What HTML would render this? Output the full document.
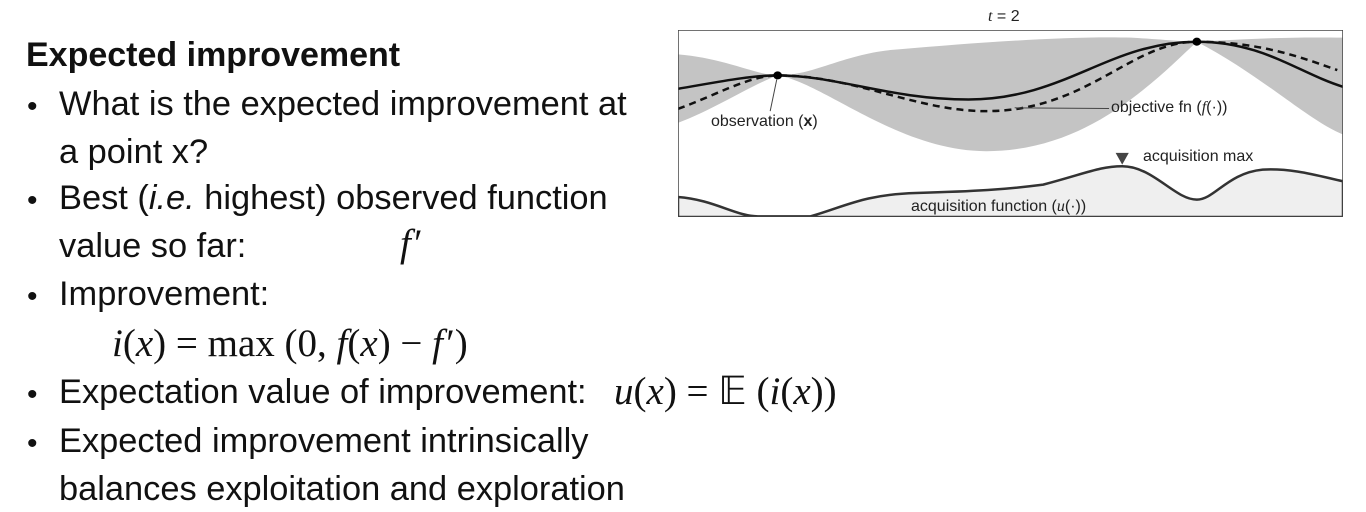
<!DOCTYPE html>
<html><head><meta charset="utf-8"><style>
body{margin:0;width:1366px;height:512px;background:#fff;position:relative;overflow:hidden;font-family:"Liberation Sans",sans-serif;color:#111}
.t{position:absolute;font-size:34.4px;white-space:nowrap;line-height:1}
.b{position:absolute;font-size:30px;left:27px}
.m{position:absolute;font-family:"Liberation Serif",serif;font-size:39px;white-space:nowrap;line-height:1}
.m i{font-style:italic}
.lab{position:absolute;font-size:16px;color:#222;white-space:nowrap;line-height:1}
</style></head><body>
<div class="t" style="left:26px;top:38px;font-weight:bold;font-size:34px">Expected improvement</div>
<div class="b" style="top:90px">•</div><div class="t" style="left:59px;top:87px">What is the expected improvement at</div>
<div class="t" style="left:59px;top:135px">a point x?</div>
<div class="b" style="top:184px">•</div><div class="t" style="left:59px;top:181px">Best (<i>i.e.</i> highest) observed function</div>
<div class="t" style="left:59px;top:229px">value so far:</div>
<div class="m" style="left:400px;top:224px"><i>f</i>&#8202;′</div>
<div class="b" style="top:280px">•</div><div class="t" style="left:59px;top:277px">Improvement:</div>
<div class="m" style="left:112px;top:324px"><i>i</i>(<i>x</i>) = max (0, <i>f</i>(<i>x</i>) − <i>f</i>&#8202;′)</div>
<div class="b" style="top:378px">•</div><div class="t" style="left:59px;top:375px">Expectation value of improvement:</div>
<div class="m" style="left:614px;top:372px"><i>u</i>(<i>x</i>) = 𝔼 (<i>i</i>(<i>x</i>))</div>
<div class="b" style="top:427px">•</div><div class="t" style="left:59px;top:424px">Expected improvement intrinsically</div>
<div class="t" style="left:59px;top:472px">balances exploitation and exploration</div>

<div class="lab" style="left:988px;top:9px;font-size:16px"><i style="font-family:'Liberation Serif',serif">t</i> = 2</div>
<svg style="position:absolute;left:678px;top:30px" width="665" height="187" viewBox="18 92 1515 560" preserveAspectRatio="none">
<path d="M18,165 C120,175 200,228 245,228 C330,228 400,160 520,150 C700,130 900,110 1050,115 C1120,120 1170,127 1200,127 C1300,120 1400,112 1533,115 L1533,405 C1450,360 1350,230 1200,127 C1100,250 950,455 720,455 C520,455 350,250 245,228 C180,260 100,330 18,370 Z" fill="#c4c4c4"/>
<path d="M18,592 C100,600 150,650 200,650 L320,650 C400,620 440,585 560,580 C700,575 760,570 850,555 C950,520 980,500 1030,500 C1100,500 1150,600 1200,600 C1240,600 1270,520 1350,510 C1420,505 1480,530 1533,545 L1533,652 L18,652 Z" fill="#efefef" stroke="#333" stroke-width="2.5" vector-effect="non-scaling-stroke"/>
<path d="M18,268 C100,250 180,228 245,228 C380,228 500,300 680,300 C900,300 1000,127 1200,127 C1350,127 1430,220 1533,262" fill="none" stroke="#111" stroke-width="2.5" vector-effect="non-scaling-stroke"/>
<path d="M18,328 C100,290 180,228 245,228 C420,228 560,335 720,335 C950,335 1050,127 1200,127 C1350,127 1450,180 1520,212" fill="none" stroke="#111" stroke-width="2.5" stroke-dasharray="7,5" vector-effect="non-scaling-stroke"/>
<path d="M1000,327 L785,325 M228,335 L243,240" stroke="#444" stroke-width="1" vector-effect="non-scaling-stroke"/>
<ellipse cx="245" cy="228" rx="10" ry="12" fill="#000"/>
<ellipse cx="1200" cy="127" rx="10" ry="12" fill="#000"/>
<polygon points="1015,460 1045,460 1030,495" fill="#444"/>
<rect x="18" y="92" width="1515" height="560" fill="none" stroke="#444" stroke-width="1.5" vector-effect="non-scaling-stroke"/>
</svg>
<div class="lab" style="left:711px;top:114px">observation (<b>x</b>)</div>
<div class="lab" style="left:1111px;top:100px">objective fn (<i style="font-family:'Liberation Serif',serif">f</i>(·))</div>
<div class="lab" style="left:1143px;top:149px">acquisition max</div>
<div class="lab" style="left:911px;top:199px">acquisition function (<i style="font-family:'Liberation Serif',serif">u</i>(·))</div>
</body></html>
